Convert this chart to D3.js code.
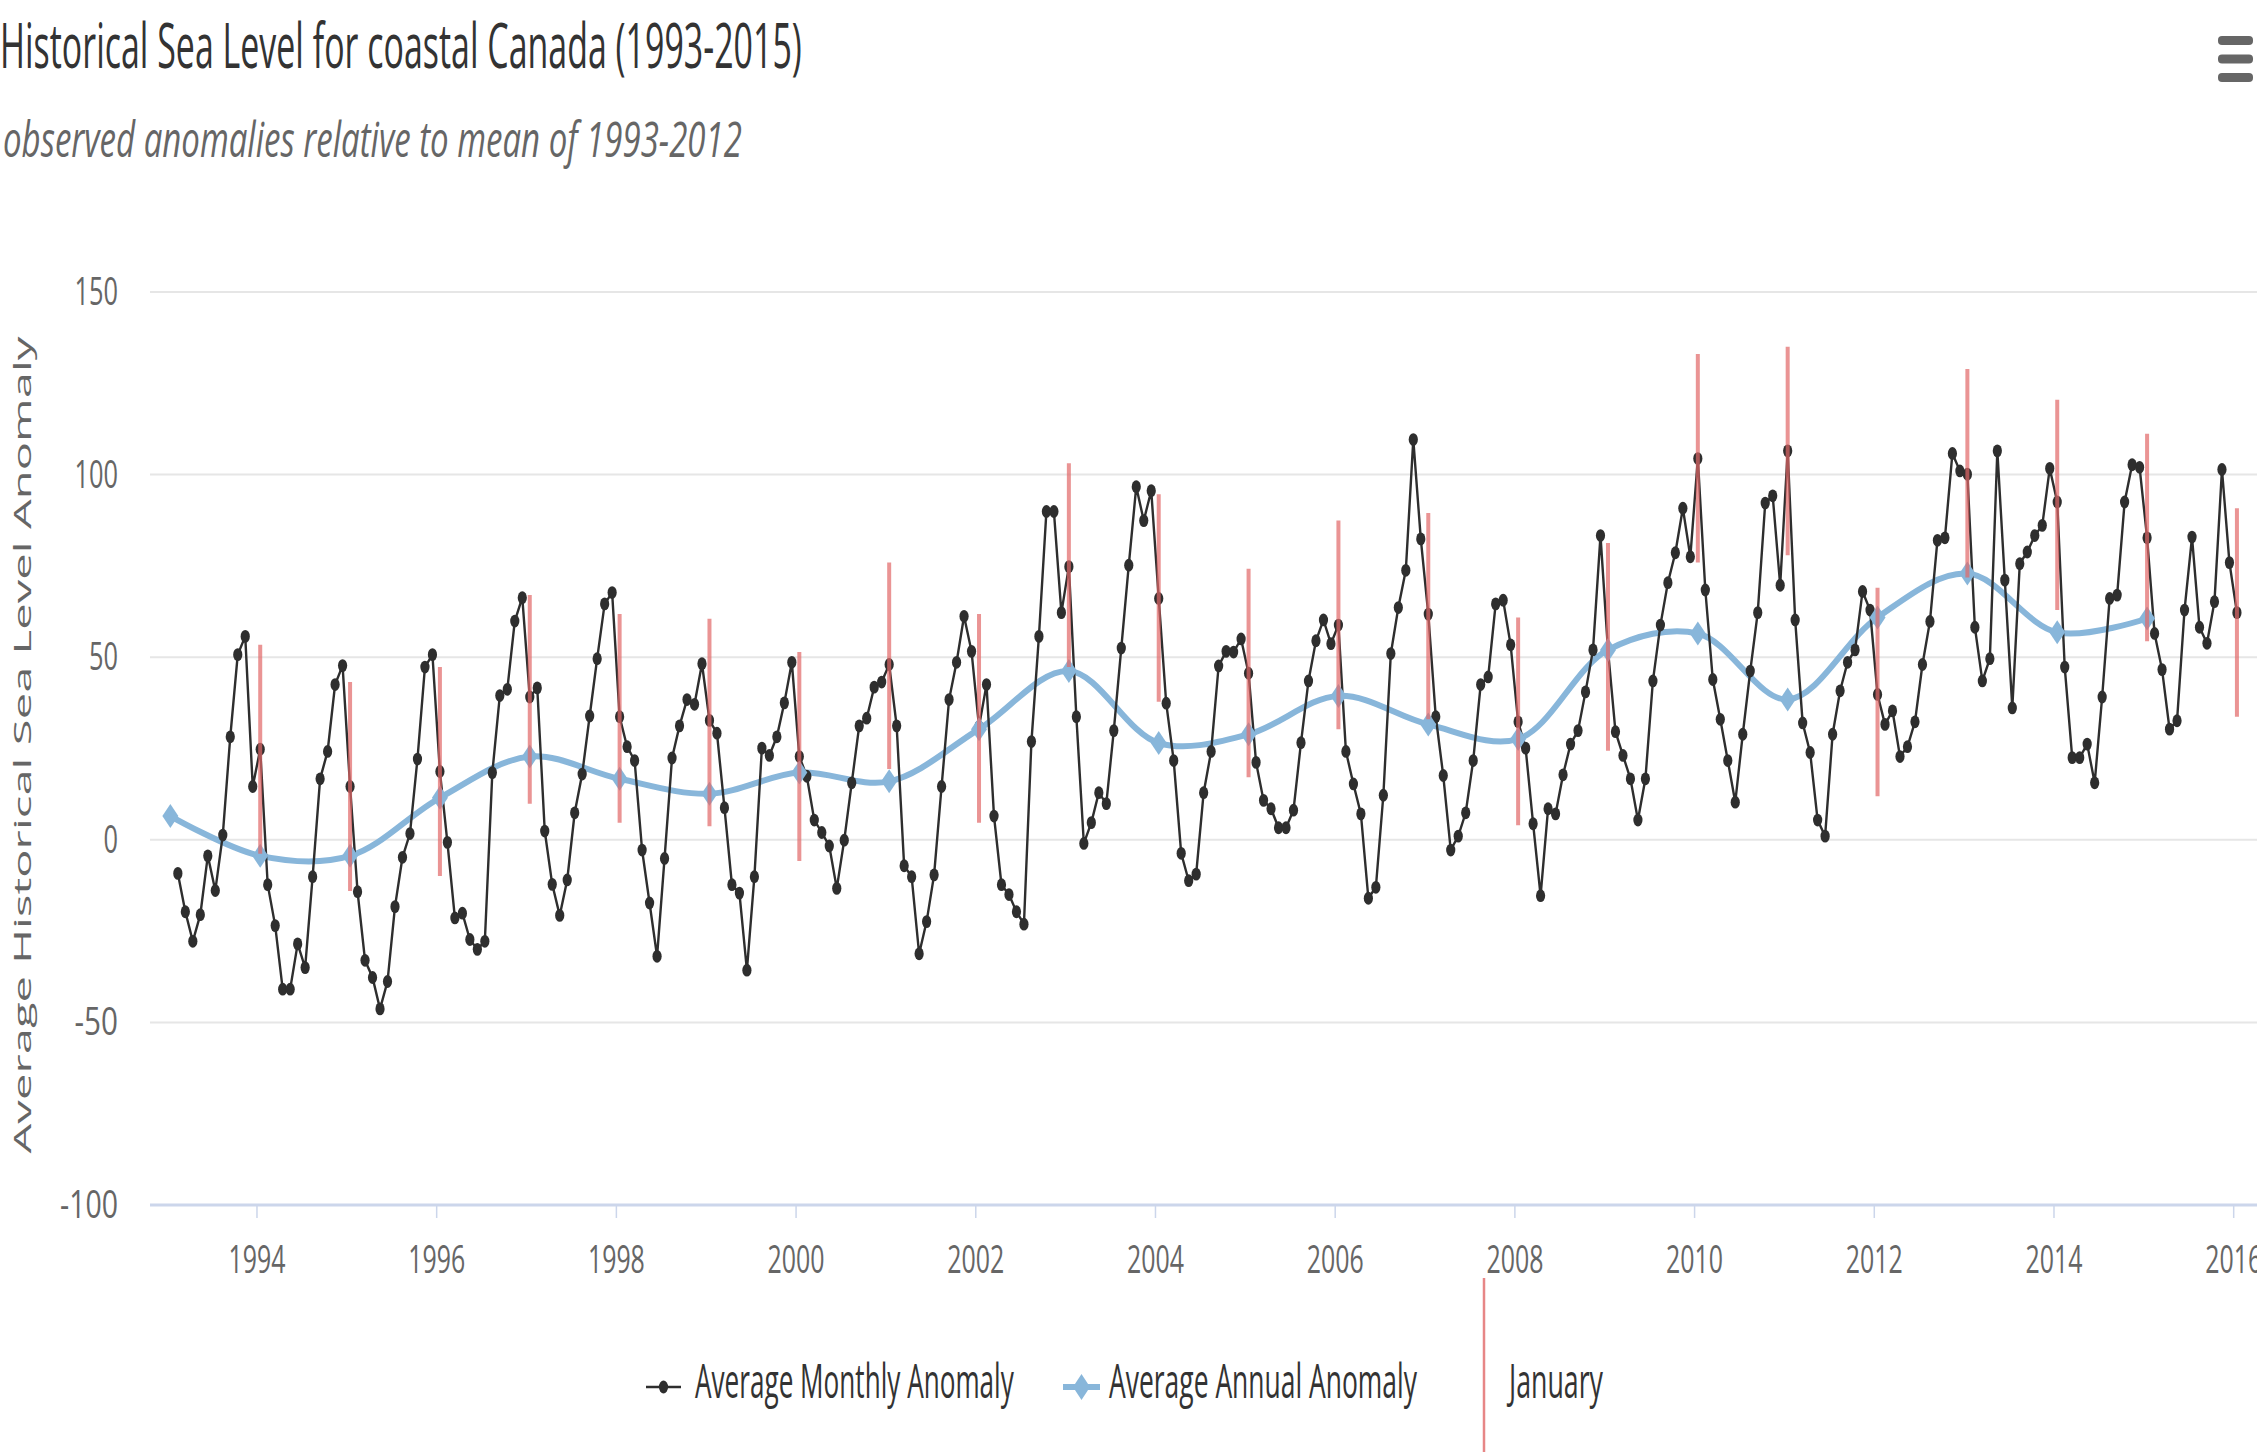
<!DOCTYPE html>
<html>
<head>
<meta charset="utf-8">
<script src="https://cdn.jsdelivr.net/npm/d3@7"></script>
<style>
body{margin:0;background:#fff}
svg{display:block;font-family:"Open Sans",sans-serif}
</style>
</head>
<body>
<div id="chart"></div>
<script>
// monthly anomalies, Feb 1993 .. Jan 2016 (mid-month)
var monthlyStart = [1993, 2]
var monthlyValues = [
          -9.2,-19.7,-27.8,-20.5,-4.4,-13.9,1.3,28.2,50.7,55.7,14.6,
    24.8,-12.3,-23.5,-40.9,-40.9,-28.5,-35.0,-10.1,16.7,24.2,42.5,47.7,
    14.6,-14.2,-33.0,-37.7,-46.3,-38.8,-18.3,-4.8,1.7,22.1,47.3,50.7,
    18.7,-0.7,-21.4,-20.1,-27.3,-30.0,-27.8,18.4,39.5,41.2,59.9,66.3,
    39.1,41.6,2.4,-12.2,-20.7,-11.0,7.4,18.0,33.9,49.6,64.6,67.7,
    33.7,25.5,21.7,-2.8,-17.3,-31.9,-5.1,22.4,31.2,38.4,37.1,48.2,
    32.7,29.2,8.8,-12.3,-14.6,-35.7,-10.1,25.1,23.1,28.2,37.5,48.6,
    22.8,17.4,5.4,2.0,-1.7,-13.3,-0.1,15.6,31.2,33.3,41.8,43.2,
    48.0,31.2,-7.1,-10.1,-31.2,-22.4,-9.6,14.6,38.4,48.6,61.2,51.6,
    31.0,42.5,6.5,-12.3,-15.0,-19.7,-23.1,26.9,55.7,89.9,89.9,62.2,
    74.8,33.7,-1.0,4.7,12.9,9.9,29.9,52.5,75.2,96.7,87.4,95.6,
    66.1,37.4,21.7,-3.7,-11.2,-9.4,12.9,24.2,47.6,51.6,51.4,55.0,
    45.6,21.2,10.8,8.5,3.3,3.3,8.1,26.6,43.5,54.5,60.2,53.7,
    58.8,24.2,15.3,7.1,-16.0,-13.0,12.2,51.0,63.6,73.8,109.6,82.4,
    61.8,33.7,17.6,-2.8,1.0,7.4,21.7,42.5,44.6,64.6,65.6,53.4,
    32.3,25.1,4.4,-15.3,8.5,7.1,17.8,26.2,29.9,40.5,52.0,83.3,
    52.0,29.6,23.1,16.7,5.4,16.7,43.5,58.8,70.4,78.6,90.8,77.5,
    104.4,68.4,43.9,33.0,21.7,10.3,28.9,46.2,62.2,92.2,94.2,69.7,
    106.5,60.2,32.0,23.9,5.4,1.0,28.9,40.8,48.6,52.0,68.0,62.9,
    39.8,31.6,35.3,22.8,25.5,32.3,48.0,59.8,82.0,82.7,105.8,101.0,
    100.1,58.2,43.5,49.6,106.5,71.1,36.1,75.6,78.8,83.3,86.1,101.7,
    92.5,47.3,22.5,22.5,26.2,15.6,39.1,66.1,67.0,92.5,102.7,102.0,
    82.7,56.5,46.6,30.3,32.6,62.9,82.9,58.2,53.8,65.2,101.4,75.9,
    62.2
]
var annualYears = [1993,1994,1995,1996,1997,1998,1999,2000,2001,2002,2003,2004,2005,2006,2007,2008,2009,2010,2011,2012,2013,2014,2015]
var annualValues = [6.5,-4.4,-4.4,11.5,22.8,16.7,12.6,18.4,16.0,30.3,46.2,26.5,28.9,39.4,31.6,27.6,52.0,56.5,38.4,60.9,72.9,56.8,60.6]
var januaryYears = [1994,1995,1996,1997,1998,1999,2000,2001,2002,2003,2004,2005,2006,2007,2008,2009,2010,2011,2012,2013,2014,2015,2016]
var januaryLow = [-3.8,-14.0,-9.9,9.9,4.7,3.7,-5.8,19.4,4.7,47.3,37.8,17.1,30.3,33.0,4.0,24.4,75.9,77.9,11.9,71.8,62.9,54.4,33.7]
var januaryHigh = [53.4,43.2,47.3,67.0,61.8,60.5,51.4,75.9,61.8,103.1,94.6,74.2,87.4,89.5,60.9,81.3,133.0,135.0,69.0,128.9,120.5,111.2,90.8]
var yTicks = [-100,-50,0,50,100,150]
var xTicks = [1994,1996,1998,2000,2002,2004,2006,2008,2010,2012,2014,2016]

var titleText = "Historical Sea Level for coastal Canada (1993-2015)"
var subtitleText = "observed anomalies relative to mean of 1993-2012"
var yTitleText = "Average Historical Sea Level Anomaly"
var legendNames = ["Average Monthly Anomaly","Average Annual Anomaly","January"]

var W = 2257, H = 1452
var blue = "#88b6da"
var red = "#e26868"

function midMonth(year, month){
    return year + (month - 0.5)/12
}

// squeeze a text horizontally so that it spans len pixels
function fitWidth(sel, x, y, len){
    sel.each(function(d,i){
        var n = this.getComputedTextLength()
        var L = typeof len == "function" ? len(d,i) : len
        var X = typeof x == "function" ? x(d,i) : x
        var Y = typeof y == "function" ? y(d,i) : y
        d3.select(this).attr("x",0).attr("y",0)
            .attr("transform","translate("+X+","+Y+") scale("+(L/n)+",1)")
    })
}

function drawChart(){
    var svg = d3.select("#chart").append("svg").attr("width",W).attr("height",H)

    var x = d3.scaleLinear().domain([1992.815,2016.265]).range([150,2257])
    var y = d3.scaleLinear().domain([-100,150]).range([1205,292])

    // titles
    svg.append("text").text(titleText)
        .attr("font-size",62).attr("fill","#333")
        .call(fitWidth,0,68,802)
    svg.append("text").text(subtitleText)
        .attr("font-size",50).attr("font-style","italic").attr("fill","#666")
        .call(fitWidth,3,157,739)

    // menu button
    svg.selectAll(".menu")
        .data([0,1,2])
        .enter()
        .append("rect")
        .attr("x",2218).attr("y",function(d){return 36+d*18.5})
        .attr("width",35).attr("height",9).attr("rx",4)
        .attr("fill","#666")

    // grid
    svg.selectAll(".grid")
        .data(yTicks.filter(function(d){return d>-100}))
        .enter()
        .append("line")
        .attr("x1",150).attr("x2",W)
        .attr("y1",function(d){return y(d)}).attr("y2",function(d){return y(d)})
        .attr("stroke","#e6e6e6").attr("stroke-width",2)

    // y axis labels
    svg.selectAll(".ylab")
        .data(yTicks)
        .enter()
        .append("text")
        .text(function(d){return d})
        .attr("text-anchor","end")
        .attr("font-size",38).attr("fill","#666")
        .call(fitWidth,118,function(d){return y(d)+13},function(d){return String(d).length*14.5})

    svg.append("text").text(yTitleText)
        .attr("transform","translate(31,745) rotate(-90) scale(1,0.67)")
        .attr("text-anchor","middle")
        .attr("font-size",34).attr("fill","#666")
        .attr("textLength",817).attr("lengthAdjust","spacingAndGlyphs")

    // x axis
    var xAxis = d3.axisBottom(x).tickValues(xTicks).tickSize(13).tickFormat(function(d){return d})
    var axis = svg.append("g")
        .attr("transform","translate(0,1205)")
        .call(xAxis)
    axis.select(".domain").remove()
    axis.selectAll(".tick line").attr("stroke","#ccd6eb").attr("stroke-width",1.5)
    axis.selectAll(".tick text")
        .attr("dy",0)
        .attr("font-size",38).attr("fill","#666").attr("font-family","Open Sans")
        .call(fitWidth,0,68,57)
    svg.append("line")
        .attr("x1",150).attr("x2",W)
        .attr("y1",y(-100)).attr("y2",y(-100))
        .attr("stroke","#ccd6eb").attr("stroke-width",3)

    // annual spline
    var annual = annualYears.map(function(yr,i){return {x:midMonth(yr,1),v:annualValues[i]}})
    var spline = d3.line()
        .x(function(d){return x(d.x)})
        .y(function(d){return y(d.v)})
        .curve(d3.curveCatmullRom.alpha(0.5))
    svg.append("path")
        .datum(annual)
        .attr("d",spline)
        .attr("fill","none").attr("stroke",blue).attr("stroke-width",6)

    // monthly line
    var monthly = monthlyValues.map(function(v,i){
        var m = monthlyStart[1]-1+i
        return {x:midMonth(monthlyStart[0]+Math.floor(m/12),(m%12)+1),v:v}
    })
    var line = d3.line()
        .x(function(d){return x(d.x)})
        .y(function(d){return y(d.v)})
    svg.append("path")
        .datum(monthly)
        .attr("d",line)
        .attr("fill","none").attr("stroke","#2e2e2e").attr("stroke-width",2.4)
    svg.selectAll(".monthDot")
        .data(monthly)
        .enter()
        .append("ellipse")
        .attr("cx",function(d){return x(d.x)})
        .attr("cy",function(d){return y(d.v)})
        .attr("rx",4.6).attr("ry",6.4)
        .attr("fill","#2e2e2e")

    // annual diamonds
    svg.selectAll(".annualDot")
        .data(annual)
        .enter()
        .append("path")
        .attr("d",function(d){
            var cx = x(d.x), cy = y(d.v)
            return "M"+cx+","+(cy-12)+"L"+(cx+8)+","+cy+"L"+cx+","+(cy+12)+"L"+(cx-8)+","+cy+"Z"
        })
        .attr("fill",blue)

    // january error bars
    svg.selectAll(".janBar")
        .data(januaryYears)
        .enter()
        .append("line")
        .attr("x1",function(d){return x(midMonth(d,1))})
        .attr("x2",function(d){return x(midMonth(d,1))})
        .attr("y1",function(d,i){return y(januaryHigh[i])})
        .attr("y2",function(d,i){return y(januaryLow[i])})
        .attr("stroke",red).attr("stroke-width",4).attr("opacity",0.7)

    // legend
    var lg = svg.append("g")
    lg.append("line").attr("x1",646).attr("x2",681).attr("y1",1387).attr("y2",1387)
        .attr("stroke","#2e2e2e").attr("stroke-width",2.4)
    lg.append("ellipse").attr("cx",663.5).attr("cy",1387).attr("rx",4.6).attr("ry",6.4).attr("fill","#2e2e2e")
    lg.append("line").attr("x1",1063).attr("x2",1100).attr("y1",1387).attr("y2",1387)
        .attr("stroke",blue).attr("stroke-width",6)
    lg.append("path").attr("d","M1081.5,1374L1090,1387L1081.5,1400L1073,1387Z").attr("fill",blue)
    lg.append("line").attr("x1",1484).attr("x2",1484).attr("y1",1278).attr("y2",H)
        .attr("stroke",red).attr("stroke-width",2.5).attr("opacity",0.8)
    var legendX = [695,1109,1509]
    var legendLen = [319,308,94]
    lg.selectAll(".legText")
        .data(legendNames)
        .enter()
        .append("text")
        .text(function(d){return d})
        .attr("font-size",48).attr("fill","#333")
        .call(fitWidth,function(d,i){return legendX[i]},1398,function(d,i){return legendLen[i]})
}

drawChart()
</script>
</body>
</html>
